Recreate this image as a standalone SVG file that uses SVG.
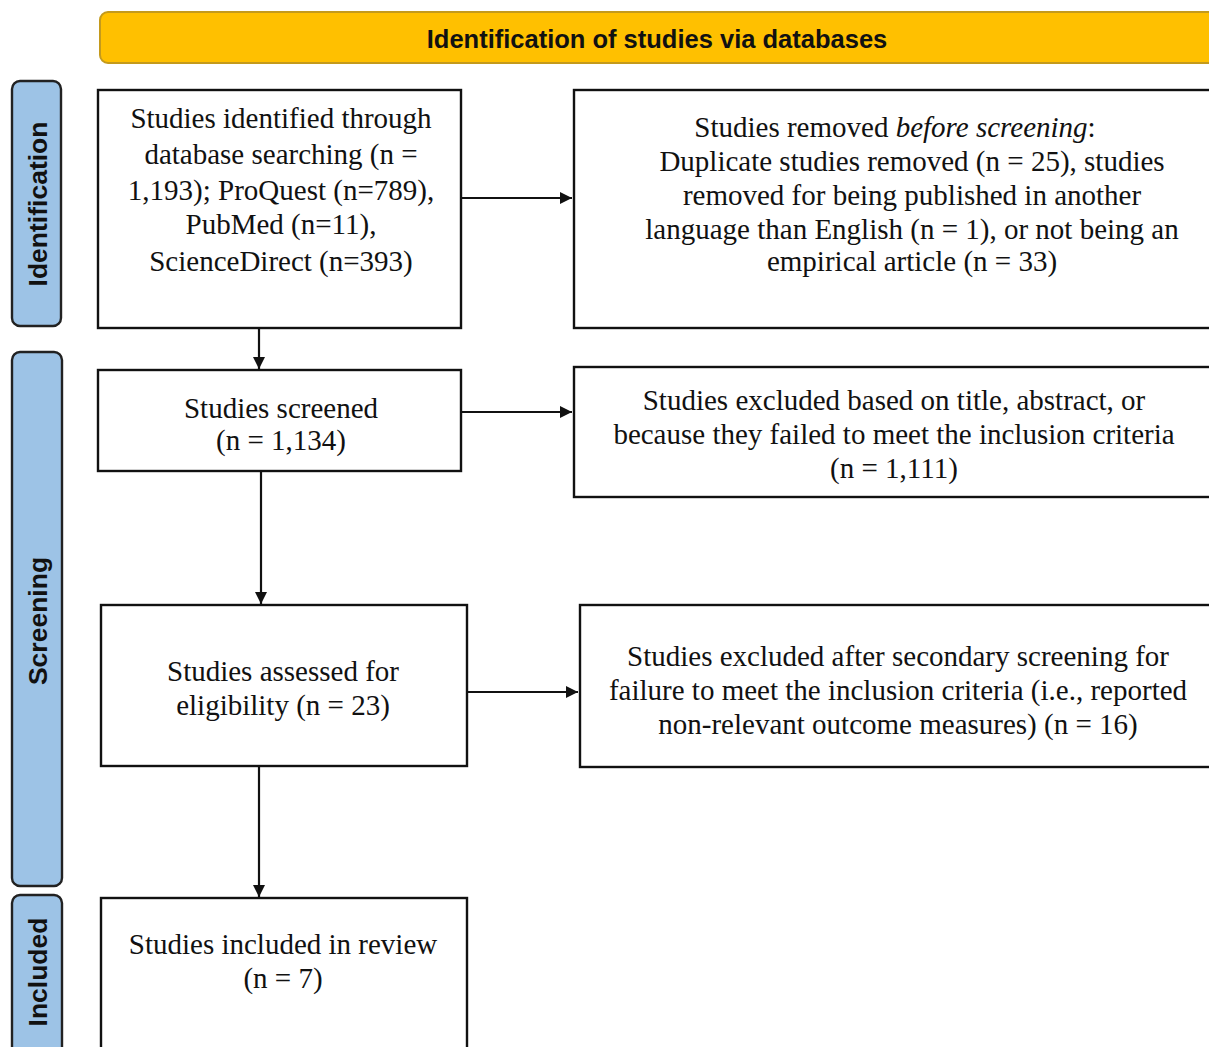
<svg xmlns="http://www.w3.org/2000/svg" width="1209" height="1047" viewBox="0 0 1209 1047">
<defs>
<style>
.box{fill:#fff;stroke:#111;stroke-width:2.4}
.side{fill:#9DC3E6;stroke:#222;stroke-width:2.4}
.side-t{font-family:"Liberation Sans",Arial,sans-serif;font-weight:bold;font-size:26.5px;fill:#111;text-anchor:middle}
.t{font-family:"Liberation Serif","Times New Roman",serif;font-size:29px;fill:#111;text-anchor:middle}
.ban{fill:#FFC000;stroke:#C49A1C;stroke-width:2}
.ban-t{font-family:"Liberation Sans",Arial,sans-serif;font-weight:bold;font-size:25.5px;fill:#111;text-anchor:middle}
.c{stroke:#111;stroke-width:2.2;fill:none;marker-end:url(#ah)}
</style>
<marker id="ah" viewBox="0 0 10 10" refX="10" refY="5" markerWidth="12" markerHeight="12" markerUnits="userSpaceOnUse" orient="auto">
<path d="M0,0 L10,5 L0,10 z" fill="#111"/>
</marker>
</defs>
<rect width="1209" height="1047" fill="#fff"/>
<g id="banner">
<rect class="ban" x="100" y="12" width="1130" height="51" rx="8"/>
<text class="ban-t" x="657" y="48">Identification of studies via databases</text>
</g>
<g id="lane-identification">
<rect class="side" x="12" y="81" width="49" height="245" rx="8"/>
<text class="side-t" transform="translate(47,204) rotate(-90)">Identification</text>
</g>
<g id="lane-screening">
<rect class="side" x="12" y="352" width="50" height="534" rx="8"/>
<text class="side-t" transform="translate(47,621) rotate(-90)">Screening</text>
</g>
<g id="lane-included">
<rect class="side" x="12" y="895" width="50" height="170" rx="8"/>
<text class="side-t" transform="translate(47,972) rotate(-90)">Included</text>
</g>
<g id="identified">
<rect class="box" x="98" y="90" width="363" height="238"/>
<text class="t" x="281" y="128">Studies identified through</text>
<text class="t" x="281" y="164">database searching (n =</text>
<text class="t" x="281" y="200">1,193); ProQuest (n=789),</text>
<text class="t" x="281" y="234">PubMed (n=11),</text>
<text class="t" x="281" y="271">ScienceDirect (n=393)</text>
</g>
<g id="removed">
<rect class="box" x="574" y="90" width="650" height="238"/>
<text class="t" x="895" y="137">Studies removed <tspan font-style="italic">before screening</tspan>:</text>
<text class="t" x="912" y="171">Duplicate studies removed (n = 25), studies</text>
<text class="t" x="912" y="205">removed for being published in another</text>
<text class="t" x="912" y="239">language than English (n = 1), or not being an</text>
<text class="t" x="912" y="271">empirical article (n = 33)</text>
</g>
<g id="screened">
<rect class="box" x="98" y="370" width="363" height="101"/>
<text class="t" x="281" y="418">Studies screened</text>
<text class="t" x="281" y="450">(n = 1,134)</text>
</g>
<g id="excluded-title">
<rect class="box" x="574" y="367" width="650" height="130"/>
<text class="t" x="894" y="410">Studies excluded based on title, abstract, or</text>
<text class="t" x="894" y="444">because they failed to meet the inclusion criteria</text>
<text class="t" x="894" y="478">(n = 1,111)</text>
</g>
<g id="assessed">
<rect class="box" x="101" y="605" width="366" height="161"/>
<text class="t" x="283" y="681">Studies assessed for</text>
<text class="t" x="283" y="715">eligibility (n = 23)</text>
</g>
<g id="excluded-secondary">
<rect class="box" x="580" y="605" width="644" height="162"/>
<text class="t" x="898" y="666">Studies excluded after secondary screening for</text>
<text class="t" x="898" y="700">failure to meet the inclusion criteria (i.e., reported</text>
<text class="t" x="898" y="734">non-relevant outcome measures) (n = 16)</text>
</g>
<g id="included">
<rect class="box" x="101" y="898" width="366" height="170"/>
<text class="t" x="283" y="954">Studies included in review</text>
<text class="t" x="283" y="988">(n = 7)</text>
</g>
<g id="connectors">
<path class="c" d="M461,198 H572"/>
<path class="c" d="M259,328 V369"/>
<path class="c" d="M461,412 H572"/>
<path class="c" d="M261,471 V604"/>
<path class="c" d="M467,692 H578"/>
<path class="c" d="M259,766 V897"/>
</g>
</svg>
